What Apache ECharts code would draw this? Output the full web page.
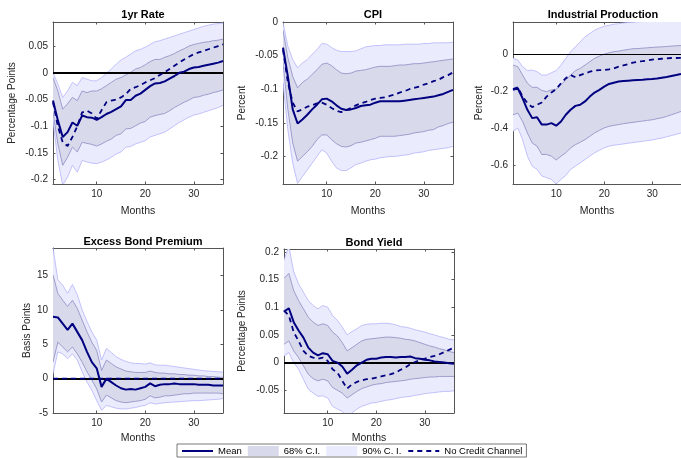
<!DOCTYPE html>
<html>
<head>
<meta charset="utf-8">
<script src="https://cdn.jsdelivr.net/npm/echarts@6/dist/echarts.min.js"></script>
<style>
  html, body { margin: 0; padding: 0; background: #fff; }
  #chart { width: 681px; height: 458px; }
</style>
</head>
<body>
<div id="chart"></div>
<script>
var months = [1,2,3,4,5,6,7,8,9,10,11,12,13,14,15,16,17,18,19,20,21,22,23,24,25,26,27,28,29,30,31,32,33,34,35,36];
var xTicks = [10, 20, 30];

// 1yr Rate
var rateMean = [-0.052,-0.089,-0.12,-0.111,-0.093,-0.099,-0.08,-0.083,-0.084,-0.088,-0.083,-0.077,-0.073,-0.068,-0.063,-0.051,-0.051,-0.043,-0.039,-0.032,-0.025,-0.02,-0.019,-0.016,-0.011,-0.006,0,0.002,0.007,0.01,0.011,0.013,0.015,0.017,0.019,0.022];
var rateNoCredit = [-0.055,-0.1,-0.13,-0.137,-0.12,-0.1,-0.074,-0.071,-0.076,-0.086,-0.07,-0.055,-0.052,-0.05,-0.046,-0.04,-0.03,-0.027,-0.023,-0.018,-0.014,-0.01,-0.004,0.001,0.007,0.013,0.019,0.025,0.03,0.035,0.038,0.041,0.044,0.047,0.05,0.053];
var rateUp68 = [-0.009,-0.034,-0.068,-0.058,-0.046,-0.052,-0.034,-0.037,-0.034,-0.034,-0.03,-0.024,-0.018,-0.012,-0.009,-0.004,0.001,0.007,0.01,0.015,0.021,0.025,0.025,0.029,0.032,0.036,0.041,0.045,0.05,0.053,0.055,0.057,0.058,0.06,0.061,0.063];
var rateLo68 = [-0.074,-0.133,-0.173,-0.158,-0.139,-0.148,-0.13,-0.132,-0.134,-0.137,-0.133,-0.128,-0.124,-0.117,-0.114,-0.105,-0.104,-0.099,-0.094,-0.091,-0.083,-0.08,-0.078,-0.076,-0.071,-0.065,-0.06,-0.055,-0.051,-0.046,-0.045,-0.042,-0.04,-0.037,-0.035,-0.032];
var rateUp90 = [0,-0.021,-0.046,-0.034,-0.018,-0.024,-0.009,-0.012,-0.015,-0.015,-0.009,-0.001,0.007,0.016,0.024,0.029,0.035,0.041,0.044,0.048,0.053,0.058,0.06,0.063,0.066,0.069,0.072,0.075,0.078,0.081,0.084,0.087,0.089,0.091,0.092,0.093];
var rateLo90 = [-0.089,-0.164,-0.21,-0.195,-0.173,-0.186,-0.164,-0.167,-0.169,-0.17,-0.167,-0.163,-0.158,-0.152,-0.148,-0.139,-0.138,-0.133,-0.13,-0.127,-0.12,-0.117,-0.114,-0.111,-0.105,-0.099,-0.093,-0.088,-0.083,-0.079,-0.077,-0.074,-0.071,-0.068,-0.065,-0.061];
var rateTicks = [-0.2,-0.15,-0.1,-0.05,0,0.05];

// CPI
var cpiMean = [-0.038,-0.081,-0.13,-0.151,-0.145,-0.138,-0.13,-0.123,-0.115,-0.114,-0.118,-0.124,-0.129,-0.131,-0.13,-0.128,-0.125,-0.124,-0.123,-0.12,-0.118,-0.118,-0.118,-0.118,-0.118,-0.117,-0.116,-0.115,-0.114,-0.113,-0.112,-0.111,-0.109,-0.107,-0.104,-0.101];
var cpiNoCredit = [-0.041,-0.09,-0.12,-0.133,-0.13,-0.126,-0.124,-0.121,-0.12,-0.123,-0.128,-0.132,-0.134,-0.131,-0.128,-0.124,-0.121,-0.119,-0.116,-0.114,-0.113,-0.112,-0.11,-0.108,-0.105,-0.103,-0.1,-0.098,-0.096,-0.093,-0.091,-0.088,-0.086,-0.082,-0.079,-0.075];
var cpiUp68 = [-0.012,-0.053,-0.081,-0.098,-0.09,-0.085,-0.078,-0.071,-0.063,-0.061,-0.065,-0.071,-0.076,-0.077,-0.076,-0.073,-0.072,-0.071,-0.069,-0.067,-0.066,-0.066,-0.066,-0.065,-0.064,-0.064,-0.063,-0.062,-0.062,-0.061,-0.06,-0.059,-0.058,-0.057,-0.056,-0.055];
var cpiLo68 = [-0.061,-0.13,-0.18,-0.207,-0.2,-0.193,-0.185,-0.175,-0.168,-0.168,-0.175,-0.181,-0.185,-0.186,-0.184,-0.18,-0.179,-0.177,-0.175,-0.173,-0.17,-0.17,-0.17,-0.17,-0.169,-0.168,-0.167,-0.165,-0.164,-0.163,-0.161,-0.16,-0.156,-0.154,-0.151,-0.149];
var cpiUp90 = [-0.001,-0.036,-0.056,-0.068,-0.061,-0.056,-0.048,-0.041,-0.032,-0.033,-0.038,-0.042,-0.044,-0.044,-0.044,-0.043,-0.04,-0.037,-0.036,-0.035,-0.035,-0.034,-0.034,-0.034,-0.034,-0.033,-0.033,-0.033,-0.033,-0.032,-0.032,-0.031,-0.031,-0.031,-0.031,-0.03];
var cpiLo90 = [-0.09,-0.16,-0.21,-0.24,-0.23,-0.22,-0.21,-0.2,-0.19,-0.195,-0.207,-0.217,-0.221,-0.221,-0.217,-0.212,-0.21,-0.207,-0.205,-0.204,-0.202,-0.201,-0.2,-0.2,-0.199,-0.198,-0.197,-0.195,-0.194,-0.193,-0.191,-0.19,-0.189,-0.188,-0.187,-0.185];
var cpiTicks = [-0.2,-0.15,-0.1,-0.05,0];

// Industrial Production
var ipMean = [-0.193,-0.184,-0.238,-0.3,-0.345,-0.34,-0.38,-0.38,-0.372,-0.386,-0.363,-0.327,-0.3,-0.279,-0.273,-0.255,-0.229,-0.207,-0.193,-0.175,-0.161,-0.154,-0.148,-0.145,-0.143,-0.141,-0.139,-0.138,-0.136,-0.134,-0.131,-0.127,-0.123,-0.118,-0.113,-0.107];
var ipNoCredit = [-0.189,-0.179,-0.229,-0.264,-0.286,-0.273,-0.261,-0.229,-0.207,-0.189,-0.157,-0.13,-0.113,-0.125,-0.113,-0.104,-0.095,-0.089,-0.086,-0.086,-0.082,-0.077,-0.068,-0.061,-0.054,-0.046,-0.041,-0.038,-0.034,-0.03,-0.027,-0.025,-0.023,-0.021,-0.021,-0.02];
var ipUp68 = [-0.059,-0.068,-0.113,-0.157,-0.179,-0.179,-0.196,-0.202,-0.193,-0.189,-0.166,-0.139,-0.113,-0.089,-0.077,-0.059,-0.041,-0.023,-0.011,0,0.007,0.013,0.016,0.021,0.025,0.029,0.03,0.032,0.034,0.036,0.038,0.039,0.041,0.043,0.045,0.046];
var ipLo68 = [-0.327,-0.318,-0.363,-0.425,-0.479,-0.496,-0.541,-0.541,-0.55,-0.571,-0.55,-0.532,-0.505,-0.488,-0.475,-0.461,-0.443,-0.425,-0.411,-0.398,-0.389,-0.384,-0.38,-0.375,-0.371,-0.368,-0.364,-0.361,-0.357,-0.354,-0.348,-0.343,-0.336,-0.327,-0.318,-0.309];
var ipUp90 = [-0.023,-0.032,-0.068,-0.089,-0.086,-0.095,-0.113,-0.113,-0.1,-0.089,-0.059,-0.023,0.013,0.039,0.066,0.093,0.111,0.129,0.141,0.15,0.155,0.161,0.164,0.168,0.17,0.172,0.174,0.175,0.176,0.177,0.178,0.178,0.179,0.18,0.18,0.18];
var ipLo90 = [-0.416,-0.398,-0.461,-0.55,-0.604,-0.621,-0.657,-0.666,-0.675,-0.7,-0.675,-0.654,-0.621,-0.604,-0.586,-0.568,-0.55,-0.532,-0.518,-0.505,-0.496,-0.491,-0.488,-0.484,-0.48,-0.477,-0.473,-0.47,-0.466,-0.463,-0.457,-0.452,-0.446,-0.439,-0.432,-0.425];
var ipTicks = [-0.6,-0.4,-0.2,0];

// Excess Bond Premium
var ebpMean = [9.0,8.9,8.0,7.1,8.0,6.8,5.6,3.9,2.4,1.5,-1.2,0,-0.5,-1.0,-1.4,-1.6,-1.5,-1.6,-1.4,-1.2,-0.7,-1.1,-0.9,-0.8,-0.8,-0.7,-0.8,-0.8,-0.8,-0.8,-0.9,-0.9,-0.9,-1.0,-1.0,-1.0];
var ebpNoCredit = [0,0,0,0,0,0,0,0,0,0,0,0,0,0,0,0,0,0,0,0,0,0,0,0,0,0,0,0,0,0,0,0,0,0,0,0];
var ebpUp68 = [15.1,12.4,11.4,10.5,11.4,10.2,8.5,6.8,5.3,4.1,1.2,2.7,2.2,1.7,1.4,1.1,1.0,0.9,0.9,0.9,1.1,0.9,0.8,0.8,0.7,0.7,0.6,0.6,0.5,0.5,0.4,0.4,0.3,0.3,0.2,0.2];
var ebpLo68 = [2.4,5.3,4.6,3.9,4.6,3.6,2.4,1.0,-0.2,-1.5,-3.4,-2.4,-2.8,-3.2,-3.4,-3.5,-3.4,-3.3,-3.2,-3.0,-2.5,-2.8,-2.7,-2.5,-2.5,-2.4,-2.3,-2.2,-2.2,-2.1,-2.1,-2.1,-2.1,-2.1,-2.1,-2.2];
var ebpUp90 = [19.0,14.4,13.6,12.4,13.7,12.2,10.0,8.3,6.8,5.6,2.7,4.4,3.8,3.2,2.8,2.5,2.3,2.2,2.2,2.1,2.3,2.0,1.95,1.95,1.85,1.75,1.65,1.55,1.45,1.35,1.25,1.15,1.1,1.05,1.0,0.95];
var ebpLo90 = [0.7,3.9,3.6,2.9,3.6,2.7,1.0,-0.5,-1.7,-3.2,-4.6,-3.9,-4.1,-4.3,-4.4,-4.4,-4.3,-4.2,-4.0,-3.9,-3.5,-3.7,-3.6,-3.5,-3.45,-3.4,-3.35,-3.3,-3.25,-3.2,-3.2,-3.15,-3.1,-3.05,-3.0,-2.9];
var ebpTicks = [-5,0,5,10,15];

// Bond Yield
var byMean = [0.092,0.098,0.073,0.058,0.045,0.027,0.018,0.013,0.017,0.015,0.003,0,-0.007,-0.02,-0.013,-0.005,0,0.005,0.007,0.007,0.009,0.01,0.01,0.009,0.01,0.01,0.011,0.008,0.007,0.005,0.004,0.002,0.001,0,-0.001,-0.002];
var byNoCredit = [0.094,0.085,0.055,0.039,0.021,0.012,0.009,0.007,0.009,0.003,-0.012,-0.018,-0.033,-0.047,-0.039,-0.035,-0.032,-0.03,-0.029,-0.027,-0.025,-0.023,-0.021,-0.018,-0.013,-0.009,-0.003,0.001,0.005,0.007,0.01,0.012,0.015,0.019,0.023,0.027];
var byUp68 = [0.152,0.161,0.13,0.112,0.097,0.082,0.073,0.067,0.07,0.067,0.055,0.048,0.036,0.021,0.027,0.033,0.039,0.042,0.043,0.044,0.045,0.046,0.046,0.045,0.044,0.042,0.041,0.039,0.036,0.033,0.03,0.028,0.025,0.023,0.02,0.018];
var byLo68 = [0.033,0.039,0.021,0.009,-0.006,-0.021,-0.029,-0.033,-0.03,-0.033,-0.045,-0.05,-0.055,-0.064,-0.058,-0.052,-0.047,-0.044,-0.041,-0.039,-0.038,-0.036,-0.035,-0.034,-0.033,-0.032,-0.03,-0.029,-0.028,-0.027,-0.026,-0.026,-0.025,-0.025,-0.025,-0.025];
var byUp90 = [0.185,0.21,0.164,0.142,0.127,0.112,0.103,0.097,0.103,0.1,0.085,0.076,0.064,0.05,0.056,0.061,0.067,0.069,0.07,0.07,0.071,0.071,0.07,0.068,0.065,0.064,0.062,0.059,0.057,0.055,0.052,0.05,0.047,0.045,0.042,0.041];
var byLo90 = [0.012,0.018,0,-0.012,-0.03,-0.048,-0.055,-0.061,-0.06,-0.064,-0.079,-0.084,-0.088,-0.097,-0.091,-0.084,-0.079,-0.076,-0.073,-0.072,-0.07,-0.068,-0.067,-0.065,-0.063,-0.062,-0.061,-0.059,-0.058,-0.056,-0.055,-0.054,-0.053,-0.052,-0.052,-0.051];
var byTicks = [-0.05,0,0.05,0.1,0.15,0.2];

var panels = [
  { title: '1yr Rate', yName: 'Percentage Points', nameGap: 36, min: -0.208, max: 0.095, ticks: rateTicks, zeroW: 2,
    mean: rateMean, dash: rateNoCredit, up68: rateUp68, lo68: rateLo68, up90: rateUp90, lo90: rateLo90,
    grid: { left: 53, top: 22, width: 170, height: 162 } },
  { title: 'CPI', yName: 'Percent', nameGap: 36, min: -0.241, max: 0, ticks: cpiTicks, zeroW: 0,
    mean: cpiMean, dash: cpiNoCredit, up68: cpiUp68, lo68: cpiLo68, up90: cpiUp90, lo90: cpiLo90,
    grid: { left: 283, top: 22, width: 170, height: 162 } },
  { title: 'Industrial Production', yName: 'Percent', nameGap: 29, min: -0.7, max: 0.173, ticks: ipTicks, zeroW: 1,
    mean: ipMean, dash: ipNoCredit, up68: ipUp68, lo68: ipLo68, up90: ipUp90, lo90: ipLo90,
    grid: { left: 513, top: 22, width: 170, height: 162 } },
  { title: 'Excess Bond Premium', yName: 'Basis Points', nameGap: 21, min: -5, max: 19, ticks: ebpTicks, zeroW: 2,
    mean: ebpMean, dash: ebpNoCredit, up68: ebpUp68, lo68: ebpLo68, up90: ebpUp90, lo90: ebpLo90,
    grid: { left: 53, top: 248, width: 170, height: 165 } },
  { title: 'Bond Yield', yName: 'Percentage Points', nameGap: 37, min: -0.091, max: 0.205, ticks: byTicks, zeroW: 2,
    mean: byMean, dash: byNoCredit, up68: byUp68, lo68: byLo68, up90: byUp90, lo90: byLo90,
    grid: { left: 284, top: 249, width: 170, height: 164 } }
];

var navy = '#000080';
var fill68 = '#d9d9ec', edge68 = '#8c8cc2';
var fill90 = '#ebebfe', edge90 = '#b4b4fa';
var textCol = '#262626';
var lineCol = '#555555';
var font = 'Liberation Sans, Arial, Helvetica, sans-serif';

function pairs(arr) {
  return months.map(function (m, i) { return [m, arr[i]]; });
}

// one polygon per band, drawn through the axis scales
function bandRender(up, lo, fill, edge) {
  return function (params, api) {
    if (params.dataIndex !== 0) return null;
    var top = [], bot = [];
    for (var k = 0; k < months.length; k++) {
      top.push(api.coord([months[k], up[k]]));
      bot.push(api.coord([months[k], lo[k]]));
    }
    return {
      type: 'group',
      children: [
        { type: 'polygon', shape: { points: top.concat(bot.slice().reverse()) }, style: { fill: fill } },
        { type: 'polyline', shape: { points: top }, style: { stroke: edge, lineWidth: 0.8, fill: null } },
        { type: 'polyline', shape: { points: bot }, style: { stroke: edge, lineWidth: 0.8, fill: null } }
      ]
    };
  };
}

var grids = [], xAxes = [], yAxes = [], titles = [], series = [];

panels.forEach(function (p, i) {
  grids.push(p.grid);
  titles.push({
    text: p.title, left: p.grid.left + p.grid.width / 2, top: p.grid.top - (i < 3 ? 18 : 17), textAlign: 'center',
    textStyle: { fontSize: 11, fontWeight: 'bold', color: '#000', fontFamily: font }
  });
  var tickLen = 2.5;
  xAxes.push({
    type: 'value', gridIndex: i, min: 1, max: 36, position: 'bottom',
    name: 'Months', nameLocation: 'middle', nameGap: i < 3 ? 22 : 20,
    nameTextStyle: { fontSize: 10.5, color: textCol, fontFamily: font },
    axisLine: { show: true, onZero: false, lineStyle: { color: lineCol, width: 1 } },
    axisTick: { show: true, inside: true, length: tickLen, customValues: xTicks, lineStyle: { color: lineCol } },
    axisLabel: { customValues: xTicks, margin: 5, fontSize: 10, color: textCol, fontFamily: font },
    splitLine: { show: false }
  });
  xAxes.push({
    type: 'value', gridIndex: i, min: 1, max: 36, position: 'top',
    axisLine: { show: true, onZero: false, lineStyle: { color: lineCol, width: 1 } },
    axisTick: { show: true, inside: true, length: tickLen, customValues: xTicks, lineStyle: { color: lineCol } },
    axisLabel: { show: false }, splitLine: { show: false }
  });
  yAxes.push({
    type: 'value', gridIndex: i, min: p.min, max: p.max, position: 'left',
    name: p.yName, nameLocation: 'middle', nameGap: p.nameGap,
    nameTextStyle: { fontSize: 10, color: textCol, fontFamily: font },
    axisLine: { show: true, onZero: false, lineStyle: { color: lineCol, width: 1 } },
    axisTick: { show: true, inside: true, length: tickLen, customValues: p.ticks, lineStyle: { color: lineCol } },
    axisLabel: { customValues: p.ticks, margin: 5, fontSize: 10, color: textCol, fontFamily: font },
    splitLine: { show: false }
  });
  yAxes.push({
    type: 'value', gridIndex: i, min: p.min, max: p.max, position: 'right',
    axisLine: { show: true, onZero: false, lineStyle: { color: lineCol, width: 1 } },
    axisTick: { show: i !== 2, inside: true, length: tickLen, customValues: p.ticks, lineStyle: { color: lineCol } },
    axisLabel: { show: false }, splitLine: { show: false }
  });

  var xi = i * 2, yi = i * 2;

  function band(name, up, lo, fill, edge) {
    series.push({
      type: 'custom', name: name, xAxisIndex: xi, yAxisIndex: yi, z: 1, silent: true, clip: true,
      itemStyle: { color: fill },
      encode: { x: 0, y: [1, 2] },
      data: months.map(function (m, k) { return [m, lo[k], up[k]]; }),
      renderItem: bandRender(up, lo, fill, edge)
    });
  }
  band('90% C. I.', p.up90, p.lo90, fill90, edge90);
  band('68% C.I.', p.up68, p.lo68, fill68, edge68);

  var base = { type: 'line', xAxisIndex: xi, yAxisIndex: yi, symbol: 'none', silent: true, animation: false };
  var meanSeries = Object.assign({}, base, {
    name: 'Mean', z: 3, lineStyle: { color: navy, width: 2 }, itemStyle: { color: navy },
    data: pairs(p.mean)
  });
  if (p.zeroW > 0) {
    meanSeries.markLine = {
      silent: true, symbol: 'none', z: 2, animation: false,
      label: { show: false },
      lineStyle: { color: '#000', width: p.zeroW, type: 'solid' },
      data: [{ yAxis: 0 }]
    };
  }
  series.push(meanSeries);
  series.push(Object.assign({}, base, {
    name: 'No Credit Channel', z: 4,
    lineStyle: { color: navy, width: 1.8, type: [5, 4] }, itemStyle: { color: navy },
    data: pairs(p.dash)
  }));
});

var chart = echarts.init(document.getElementById('chart'), null, { renderer: 'canvas' });
chart.setOption({
  backgroundColor: '#fff',
  animation: false,
  title: titles,
  grid: grids,
  xAxis: xAxes,
  yAxis: yAxes,
  legend: {
    left: 177, top: 444,
    orient: 'horizontal',
    borderColor: lineCol, borderWidth: 0.8,
    padding: [2, 4, 1, 4],
    itemWidth: 31, itemHeight: 10, itemGap: 6,
    selectedMode: false,
    textStyle: { fontSize: 9.5, color: '#000', fontFamily: font },
    data: [
      { name: 'Mean', itemStyle: { opacity: 0 } },
      { name: '68% C.I.', icon: 'rect', itemStyle: { color: fill68, borderWidth: 0 } },
      { name: '90% C. I.', icon: 'rect', itemStyle: { color: fill90, borderWidth: 0 } },
      { name: 'No Credit Channel', itemStyle: { opacity: 0 } }
    ]
  },
  series: series
});
</script>
</body>
</html>
